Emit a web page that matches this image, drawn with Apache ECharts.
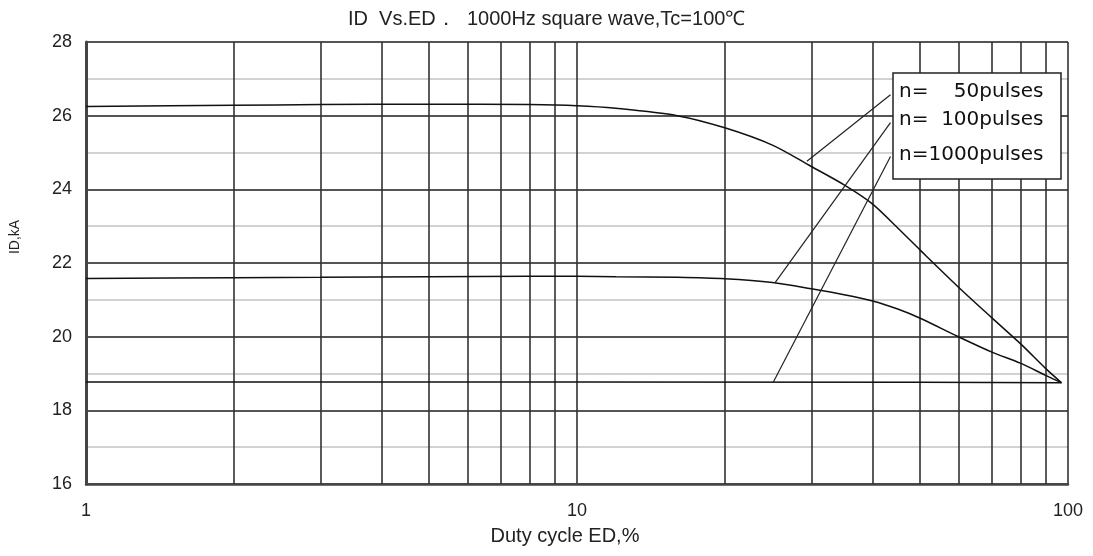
<!DOCTYPE html>
<html>
<head>
<meta charset="utf-8">
<title>ID vs ED</title>
<script src="https://cdn.jsdelivr.net/npm/echarts@6/dist/echarts.min.js"></script>
<style>
  html, body { margin: 0; padding: 0; background: #fff; }
  #chart { width: 1093px; height: 556px; }
</style>
</head>
<body>
<div id="chart"></div>
<script>
// Duty-cycle sample points (ED, %) shared by the two derated curves
const edPoints = [1, 2, 3, 5, 8, 10, 12, 16, 20, 25, 30, 35, 40, 45, 50, 60, 70, 80, 90, 97];
// ID, kA for n = 50 pulses
const idN50 = [26.25, 26.28, 26.3, 26.31, 26.3, 26.27, 26.2, 26.0, 25.67, 25.2, 24.62, 24.12, 23.6, 22.95, 22.35, 21.33, 20.51, 19.81, 19.14, 18.75];
// ID, kA for n = 100 pulses
const idN100 = [21.58, 21.6, 21.61, 21.63, 21.64, 21.64, 21.63, 21.61, 21.57, 21.47, 21.3, 21.14, 20.97, 20.75, 20.5, 19.99, 19.58, 19.28, 18.95, 18.75];
// ID, kA for n = 1000 pulses
const edN1000 = [1, 10, 50, 97];
const idN1000 = [18.77, 18.77, 18.76, 18.75];

const seriesNames = ['n=    50pulses', 'n=  100pulses', 'n=1000pulses'];

// Axis ranges and tick layout
const xMin = 1, xMax = 100;
const yMin = 16, yMax = 28, yStep = 2;
// Intermediate decade grid lines on the log axis
const edGridLines = [2, 3, 4, 5, 6, 7, 8, 9, 20, 30, 40, 50, 60, 70, 80, 90];

// Leader lines from the legend box to each curve: [start, end] in (ED, ID)
const leaderN50 = [[43.5, 26.57], [29.4, 24.76]];
const leaderN100 = [[43.5, 25.81], [25.3, 21.46]];
const leaderN1000 = [[43.5, 24.89], [25.1, 18.76]];

const titleText = 'ID  Vs.ED．  1000Hz square wave,Tc=100℃';
const xName = 'Duty cycle ED,%';
const yName = 'ID,kA';

const SANS = '"Liberation Sans", Arial, sans-serif';
const LEGEND_FONT = '"DejaVu Sans", Verdana, sans-serif';

const zip = (xs, ys) => xs.map((x, i) => [x, ys[i]]);

const curveStyle = { color: '#111', width: 1.5 };
const leaderStyle = { color: '#222', width: 1.2 };

function curve(name, data, extra) {
  return Object.assign({
    name: name,
    type: 'line',
    data: data,
    smooth: 0.3,
    showSymbol: false,
    lineStyle: curveStyle,
    z: 3
  }, extra || {});
}

function leader(points) {
  return {
    type: 'line',
    data: points,
    showSymbol: false,
    silent: true,
    lineStyle: leaderStyle,
    z: 4
  };
}

function legendText(text, y) {
  return {
    type: 'text', x: 899, y: y, z: 101,
    style: { text: text, fontFamily: LEGEND_FONT, fontSize: 20, fill: '#111', verticalAlign: 'middle' }
  };
}

const chart = echarts.init(document.getElementById('chart'), null, { renderer: 'canvas' });

chart.setOption({
  animation: false,
  backgroundColor: '#fff',
  title: {
    text: titleText,
    left: 348,
    top: 9,
    padding: 0,
    textStyle: { fontFamily: SANS, fontSize: 20, fontWeight: 'normal', color: '#222' }
  },
  grid: { left: 86, right: 25, top: 42, bottom: 72 },
  xAxis: {
    type: 'log',
    logBase: 10,
    min: xMin,
    max: xMax,
    name: xName,
    nameLocation: 'middle',
    nameGap: 42,
    nameTextStyle: { fontFamily: SANS, fontSize: 20, color: '#222', padding: [0, 24, 0, 0] },
    axisLine: { show: true, lineStyle: { color: '#444', width: 2.5 } },
    axisTick: { show: false },
    axisLabel: { fontFamily: SANS, fontSize: 18, color: '#222', margin: 18 },
    splitLine: { show: true, lineStyle: { color: '#333', width: 1.6 } }
  },
  yAxis: {
    type: 'value',
    min: yMin,
    max: yMax,
    interval: yStep,
    axisLine: { show: true, lineStyle: { color: '#444', width: 3 } },
    axisTick: { show: false },
    axisLabel: { fontFamily: SANS, fontSize: 18, color: '#222', margin: 14 },
    splitLine: { show: true, lineStyle: { color: '#555', width: 2 } },
    minorTick: { show: false, splitNumber: 2 },
    minorSplitLine: { show: true, lineStyle: { color: '#d2d2d2', width: 2 } }
  },
  series: [
    curve(seriesNames[0], zip(edPoints, idN50)),
    curve(seriesNames[1], zip(edPoints, idN100)),
    curve(seriesNames[2], zip(edN1000, idN1000), {
      smooth: false,
      markLine: {
        silent: true,
        symbol: ['none', 'none'],
        label: { show: false },
        lineStyle: { type: 'solid', color: '#333', width: 1.6 },
        emphasis: { disabled: true },
        z: 1,
        data: edGridLines.map(v => ({ xAxis: v }))
      }
    }),
    leader(leaderN50),
    leader(leaderN100),
    leader(leaderN1000)
  ],
  graphic: [
    {
      type: 'text',
      x: 15,
      y: 237,
      rotation: Math.PI / 2,
      style: {
        text: yName,
        fontFamily: SANS,
        fontSize: 14,
        fill: '#222',
        align: 'center',
        verticalAlign: 'middle'
      }
    },
    {
      type: 'rect',
      z: 100,
      shape: { x: 893, y: 73, width: 168, height: 106 },
      style: { fill: '#fff', stroke: '#222', lineWidth: 1.5 }
    },
    legendText(seriesNames[0], 92),
    legendText(seriesNames[1], 120),
    legendText(seriesNames[2], 154.5)
  ]
});
</script>
</body>
</html>
